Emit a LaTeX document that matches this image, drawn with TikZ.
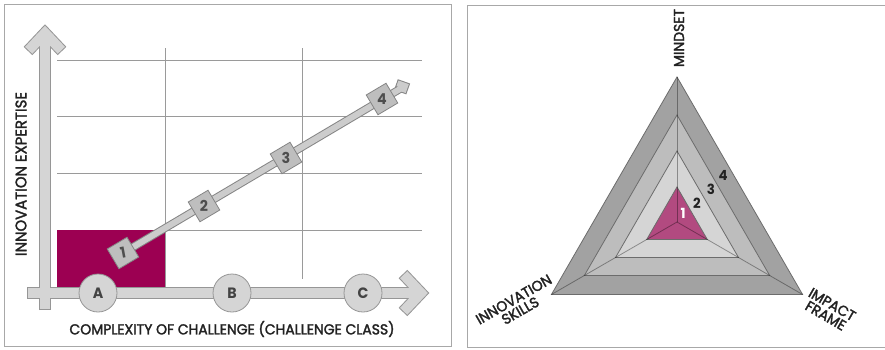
\documentclass[tikz,border=0pt]{standalone}
\usepackage{fontspec}
\newfontfamily\lblfont[FakeStretch=0.97,FakeBold=2]{Poppins}
\newfontfamily\numfont[FakeStretch=0.95]{Poppins}
\definecolor{panelgray}{HTML}{A8A8A8}
\definecolor{gridgray}{HTML}{9A9A9A}
\definecolor{axisedge}{HTML}{969696}
\definecolor{axisfill}{HTML}{D5D5D5}
\definecolor{sqfill}{HTML}{BEBEBE}
\definecolor{sqedge}{HTML}{858585}
\definecolor{deepmag}{HTML}{9C0052}
\definecolor{trimag}{HTML}{B24A80}
\definecolor{ringfour}{HTML}{A2A2A2}
\definecolor{ringthree}{HTML}{BDBDBD}
\definecolor{ringtwo}{HTML}{D5D5D5}
\definecolor{triedge}{HTML}{6C6C6C}
\definecolor{txt}{HTML}{222222}
\begin{document}
\begin{tikzpicture}[x=1pt,y=-1pt,
  panel/.style={draw=panelgray,line width=1pt},
  gridline/.style={draw=gridgray,line width=0.8pt},
  axisout/.style={draw=axisedge,line width=12pt,line join=miter},
  axisin/.style={draw=axisfill,line width=10pt,line join=miter},
  barout/.style={draw=sqedge,line width=8pt,line join=miter},
  barin/.style={draw=axisfill!90!gray,line width=6pt,line join=miter},
  circ/.style={circle,draw=axisedge,fill=axisfill,line width=0.8pt,minimum size=38pt,inner sep=0pt,
    font=\numfont\bfseries\fontsize{15}{17}\selectfont,text=txt!85},
  sqbox/.style={rectangle,draw=sqedge,fill=sqfill,line width=0.8pt,minimum size=23pt,inner sep=0pt,
    font=\numfont\bfseries\fontsize{15}{17}\selectfont,text=txt!80},
  lbl/.style={font=\lblfont\fontsize{14.4}{14}\selectfont,text=txt,inner sep=0pt},
  tri/.style={draw=triedge,line width=0.8pt,line join=miter},
  spoke/.style={draw=black,draw opacity=0.35,line width=0.8pt},
  tnum/.style={font=\numfont\bfseries\fontsize{14}{15}\selectfont,text=txt,inner sep=0pt}]
\useasboundingbox (0,0) rectangle (885,349);
\fill[white] (0,0) rectangle (885,349);
% panels
\draw[panel] (4,4) rectangle (451,346);
\draw[panel] (467,5) rectangle (895,347);
% grid
\foreach \yy in {60,116,173,230} \draw[gridline] (57,\yy) -- (422,\yy);
\draw[gridline] (165,48) -- (165,290);
\draw[gridline] (302,48) -- (302,279);
% magenta area
\fill[deepmag] (57,230) rectangle (165,290);
% axes
\coordinate (ybot) at (45,310);
\coordinate (ytip) at (45,33);
\coordinate (yl) at (28,51);
\coordinate (yr) at (62,51);
\coordinate (xleft) at (27,293);
\coordinate (xtip) at (421,293);
\coordinate (xu) at (403,274);
\coordinate (xd) at (403,312);
\draw[axisout] (ybot) -- (ytip);
\draw[axisout] (yl) -- (ytip) -- (yr);
\draw[axisout] (xleft) -- (xtip);
\draw[axisout] (xu) -- (xtip) -- (xd);
\draw[axisin,shorten <=1pt] (ybot) -- (ytip);
\draw[axisin,shorten <=1pt,shorten >=1pt] (yl) -- (ytip) -- (yr);
\draw[axisin,shorten <=1pt] (xleft) -- (xtip);
\draw[axisin,shorten <=1pt,shorten >=1pt] (xu) -- (xtip) -- (xd);
% circles
\node[circ] (ca) at (98,293) {A};
\node[circ] (cb) at (232,293) {B};
\node[circ] (cc) at (363,293) {C};
% diagonal bar
\coordinate (bstart) at (123,253);
\coordinate (btip) at (405,86);
\coordinate (bl) at (396.5,83);
\coordinate (br) at (402.5,93);
\draw[barout] (bstart) -- (btip);
\draw[barout] (bl) -- (btip) -- (br);
\draw[barin] (bstart) -- (btip);
\draw[barin,shorten <=1pt,shorten >=1pt] (bl) -- (btip) -- (br);
\node[sqbox,rotate=30.7] (s1) at (123,253) {\rotatebox{-20}{1}};
\node[sqbox,rotate=30.7] (s2) at (204,206) {\rotatebox{-30.7}{2}};
\node[sqbox,rotate=30.7] (s3) at (286,158) {\rotatebox{-30.7}{3}};
\node[sqbox,rotate=30.7] (s4) at (382,99) {\rotatebox{-30.7}{4}};
% axis labels
\node[lbl,rotate=90,font=\lblfont\fontsize{15.3}{15}\selectfont] (ylab) at (21,174) {INNOVATION EXPERTISE};
\node[lbl] (xlab) at (232,329) {COMPLEXITY OF CHALLENGE (CHALLENGE CLASS)};
% triangle chart
\begin{scope}[shift={(677,222)}]
  \draw[tri,fill=ringfour] (-90:145) -- (30:145) -- (150:145) -- cycle;
  \draw[tri,fill=ringthree] (-90:107) -- (30:107) -- (150:107) -- cycle;
  \draw[tri,fill=ringtwo] (-90:71) -- (30:71) -- (150:71) -- cycle;
  \draw[tri,fill=trimag] (-90:35) -- (30:35) -- (150:35) -- cycle;
  \draw[spoke] (0,0) -- (-90:145);
  \draw[spoke] (0,0) -- (30:145);
  \draw[spoke] (0,0) -- (150:145);
\end{scope}
\node[tnum,text=white] (n1) at (683,213) {1};
\node[tnum] (n2) at (697,203) {2};
\node[tnum] (n3) at (711,189) {3};
\node[tnum] (n4) at (723,175) {4};
\node[lbl,rotate=90] (mind) at (679,38) {MINDSET};
\node[lbl,rotate=30,align=center] (skills) at (517,305) {INNOVATION\\[-1pt]SKILLS};
\node[lbl,rotate=-30,align=center] (impact) at (829,310) {IMPACT\\[-1pt]FRAME};
\end{tikzpicture}
\end{document}
